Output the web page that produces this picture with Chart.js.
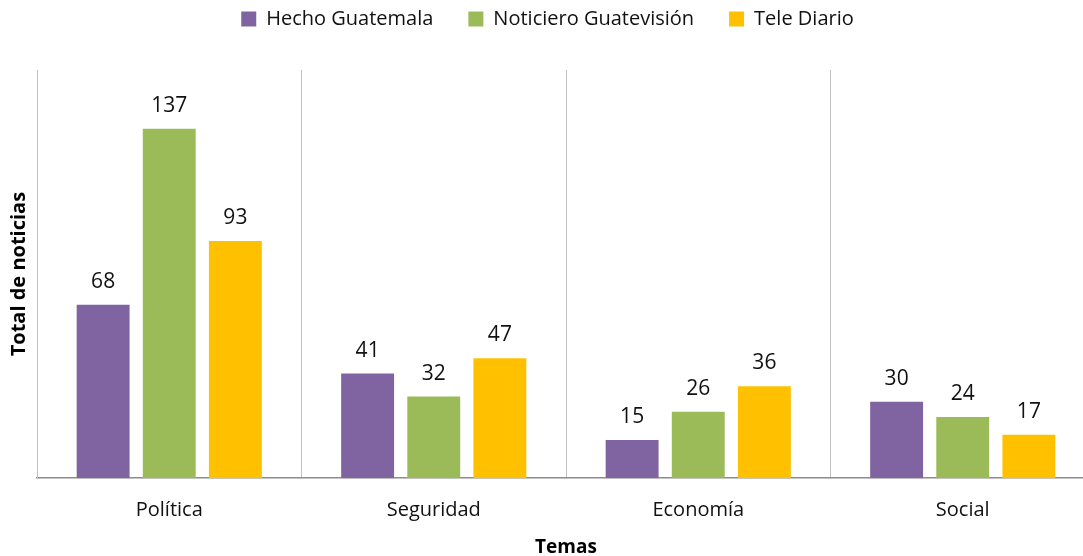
<!DOCTYPE html>
<html>
<head>
<meta charset="utf-8">
<script src="https://cdn.jsdelivr.net/npm/chart.js@4.4.1/dist/chart.umd.min.js"></script>
<style>
  html, body { margin: 0; padding: 0; background: #fff; overflow: hidden; }
  #wrap { width: 1095px; height: 556px; }
</style>
</head>
<body>
<div id="wrap"><canvas id="chart"></canvas></div>
<script>
const temas = ['Política', 'Seguridad', 'Economía', 'Social'];
const hechoGuatemala = [68, 41, 15, 30];
const noticieroGuatevision = [137, 32, 26, 24];
const teleDiario = [93, 47, 36, 17];

const PURPLE = '#8064A2';
const GREEN = '#9BBB59';
const YELLOW = '#FFC000';
const GRID = '#C0C0C0';
const FONT = "'Open Sans', sans-serif";

Chart.defaults.font.family = FONT;
Chart.defaults.color = '#1a1a1a';

/* value labels above each bar */
const barLabels = {
  id: 'barLabels',
  afterDatasetsDraw(chart) {
    const ctx = chart.ctx;
    ctx.save();
    ctx.font = `21px ${FONT}`;
    ctx.fillStyle = '#111';
    ctx.textAlign = 'center';
    ctx.textBaseline = 'alphabetic';
    chart.data.datasets.forEach((ds, i) => {
      chart.getDatasetMeta(i).data.forEach((bar, j) => {
        ctx.fillText(ds.data[j], bar.x, bar.y - 17);
      });
    });
    ctx.restore();
  }
};

/* make room between legend and plot */
const legendGap = {
  id: 'legendGap',
  beforeLayout(chart) {
    const lg = chart.legend;
    if (!lg || lg._gapPatched) return;
    const fit = lg.fit;
    lg.fit = function () {
      fit.call(this);
      this.height = 96;
    };
    lg._gapPatched = true;
  }
};

new Chart(document.getElementById('chart'), {
  type: 'bar',
  data: {
    labels: temas,
    datasets: [
      { label: 'Hecho Guatemala', data: hechoGuatemala, backgroundColor: PURPLE },
      { label: 'Noticiero Guatevisión', data: noticieroGuatevision, backgroundColor: GREEN },
      { label: 'Tele Diario', data: teleDiario, backgroundColor: YELLOW }
    ]
  },
  options: {
    responsive: true,
    maintainAspectRatio: false,
    animation: false,
    layout: { padding: { top: -26, left: 0, right: 0, bottom: 0 } },
    datasets: { bar: { categoryPercentage: 0.75, barPercentage: 0.8 } },
    plugins: {
      tooltip: { enabled: false },
      legend: {
        position: 'top',
        labels: {
          boxWidth: 15,
          boxHeight: 15,
          padding: 35,
          color: '#111',
          font: { size: 20 }
        }
      }
    },
    scales: {
      x: {
        grid: { display: true, color: GRID, drawTicks: false, offset: true },
        border: { display: true, color: '#8C8C8C', width: 1.5 },
        ticks: { padding: 20, color: '#111', font: { size: 20 } },
        title: {
          display: true,
          text: 'Temas',
          color: '#000',
          font: { size: 19, weight: 'bold' },
          padding: { top: -6, bottom: -3 }
        }
      },
      y: {
        min: 0,
        max: 160,
        grid: { display: false, drawTicks: false },
        border: { display: true, color: GRID },
        ticks: { display: false },
        title: {
          display: true,
          text: 'Total de noticias',
          color: '#000',
          font: { size: 20, weight: 'bold' },
          padding: { top: 7, bottom: 6 }
        }
      }
    }
  },
  plugins: [barLabels, legendGap]
});
</script>
</body>
</html>
